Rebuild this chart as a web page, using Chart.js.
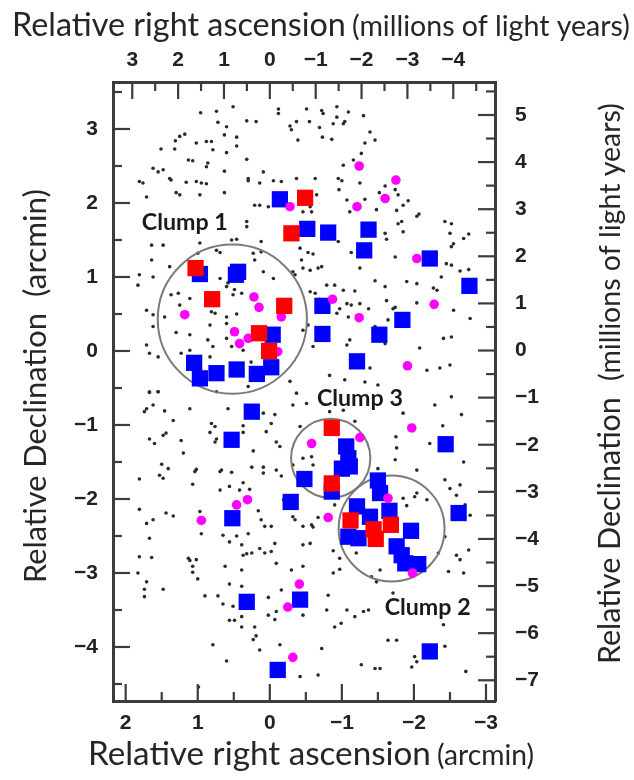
<!DOCTYPE html>
<html>
<head>
<meta charset="utf-8">
<script src="https://cdn.jsdelivr.net/npm/chart.js@4.4.1/dist/chart.umd.min.js"></script>
<style>
  body { margin: 0; background: #fff; }
  canvas { display: block; }
</style>
</head>
<body>
<canvas id="myChart" width="634" height="780"></canvas>
<script>
// axis ranges (arcmin and millions of light years)
const raRange = [-3.125, 2.176];
const decRange = [-4.73, 3.635];
const raLyRange = [-4.91, 3.42];
const decLyRange = [-7.44, 5.70];

const raTicks = [2, 1, 0, -1, -2, -3];
const decTicks = [3, 2, 1, 0, -1, -2, -3, -4];
const raLyTicks = [3, 2, 1, 0, -1, -2, -3, -4];
const decLyTicks = [5, 4, 3, 2, 1, 0, -1, -2, -3, -4, -5, -6, -7];

// clumps
const clumpNames = ['Clump 1', 'Clump 2', 'Clump 3'];
const clumpX = [0.52, -1.69, -0.845];
const clumpY = [0.43, -2.40, -1.45];
const clumpR = [1.035, 0.735, 0.55];
const clumpLabelX = [1.18, -2.19, -1.25];
const clumpLabelY = [1.73, -3.46, -0.64];

// red squares
const redPts = [
    [-0.49, 2.07], [-0.30, 1.59], [1.03, 1.12], [0.80, 0.70], [-0.20, 0.61],
    [0.15, 0.24], [0.01, 0.00], [-0.86, -1.04], [-0.86, -1.79], [-1.12, -2.29],
    [-1.44, -2.41], [-1.47, -2.54], [-1.68, -2.35]
];

// blue squares
const bluePts = [
    [-0.14, 2.05], [-0.52, 1.65], [0.97, 1.04], [0.44, 1.07], [0.47, 1.03],
    [-0.04, 0.22], [1.05, -0.16], [0.97, -0.37], [0.74, -0.30], [0.46, -0.25],
    [0.18, -0.31], [-0.02, -0.22], [-0.81, 1.60], [-1.37, 1.64], [-1.31, 1.36],
    [-2.22, 1.25], [-2.77, 0.88], [-0.73, 0.61], [-0.73, 0.23], [-1.84, 0.42],
    [-1.52, 0.22], [-1.21, -0.14], [0.25, -0.82], [0.53, -1.20], [-0.48, -1.73],
    [-0.29, -2.04], [0.52, -2.26], [-0.42, -3.36], [0.32, -3.39], [-0.11, -4.31],
    [-1.06, -1.29], [-1.09, -1.45], [-1.00, -1.59], [-1.11, -1.56], [-0.86, -1.90],
    [-2.44, -1.26], [-1.50, -1.75], [-1.53, -1.92], [-1.21, -2.10], [-1.66, -2.16],
    [-1.39, -2.24], [-1.09, -2.51], [-1.23, -2.53], [-1.96, -2.43], [-2.62, -2.19],
    [-1.76, -2.64], [-1.83, -2.76], [-1.88, -2.87], [-2.06, -2.88], [-2.22, -4.06]
];

// magenta points
const magentaPts = [
    [-0.28, 1.95], [0.22, 0.73], [0.15, 0.59], [1.18, 0.49], [-0.16, 0.46],
    [0.49, 0.26], [0.42, 0.10], [0.30, 0.17], [-0.11, -0.01], [-1.24, 2.50],
    [-1.75, 2.31], [-1.60, 2.06], [-1.21, 1.95], [-2.04, 1.25], [-2.28, 0.63],
    [-0.87, 0.70], [-1.24, 0.45], [-1.91, -0.20], [-0.58, -1.25], [0.46, -2.08],
    [0.31, -2.01], [0.95, -2.29], [-0.41, -3.15], [-0.25, -3.46], [-0.32, -4.14],
    [-1.25, -1.17], [-1.97, -1.04], [-0.81, -2.25], [-1.98, -3.00], [-1.64, -1.99]
];

// small black dots
const dotPts = [
    [0.51, 3.30], [0.74, 3.24], [0.96, 3.22], [0.32, 3.11], [0.19, 3.10], [0.72, 3.09], [0.60, 3.03],
    [1.18, 2.93], [1.25, 2.90], [1.31, 2.84], [0.63, 2.92], [0.46, 2.89], [0.88, 2.83], [1.02, 2.81],
    [0.81, 2.83], [0.79, 2.72], [1.51, 2.73], [1.32, 2.73], [0.46, 2.77], [0.60, 2.68], [1.13, 2.58],
    [1.07, 2.57], [0.86, 2.54], [0.88, 2.49], [0.32, 2.59], [0.09, 2.42], [1.62, 2.47], [1.48, 2.45],
    [1.55, 2.42], [0.30, 2.33], [0.63, 2.43], [1.39, 2.33], [1.81, 2.29], [1.76, 2.27], [1.37, 2.31],
    [1.16, 2.28], [1.02, 2.29], [0.95, 2.27], [0.88, 2.26], [0.30, 2.30], [0.14, 2.27], [1.30, 2.14],
    [1.25, 2.11], [1.71, 2.08], [0.97, 2.11], [0.63, 2.14], [0.21, 1.97], [0.14, 1.97], [0.02, 1.95],
    [0.32, 1.75], [0.32, 1.68], [1.64, 1.43], [1.48, 1.43], [0.97, 1.46], [0.53, 1.50], [0.46, 1.51],
    [0.12, 1.48], [1.64, 1.23], [1.39, 1.14], [1.00, 1.32], [0.74, 1.36], [0.69, 1.33], [0.12, 1.34],
    [0.23, 1.32], [0.21, 1.23], [0.09, 1.07], [1.81, 1.03], [1.83, 0.89], [1.62, 1.00], [0.69, 0.98],
    [0.58, 0.92], [0.49, 0.83], [0.39, 0.78], [0.60, 0.87], [0.51, 0.76], [1.27, 0.78], [1.11, 0.71],
    [1.37, 0.76], [1.25, 0.62], [1.46, 0.46], [1.62, 0.49], [1.62, 0.33], [1.71, 0.55], [0.83, 0.35],
    [0.60, 0.46], [0.46, 0.50], [0.60, 0.37], [0.81, 0.53], [0.76, 0.51], [1.11, 0.22], [1.30, 0.25],
    [0.60, 0.17], [0.79, 0.06], [0.86, 0.15], [0.53, 0.06], [0.37, 0.01], [1.71, 0.08], [1.67, -0.03],
    [1.55, -0.08], [1.11, 0.01], [1.23, -0.03], [0.26, -0.15], [0.83, -0.08], [1.55, -0.55], [1.67, -0.55],
    [0.74, -0.55], [0.30, -0.48],
    [-0.12, 3.27], [-0.12, 3.21], [-0.51, 3.27], [-0.72, 3.25], [-0.74, 3.21], [-0.93, 3.30], [-1.09, 3.23],
    [-0.93, 3.16], [-1.04, 3.10], [-1.30, 3.18], [-0.37, 3.10], [-0.55, 3.10], [-0.28, 3.04], [-0.30, 2.99],
    [-0.69, 3.02], [-0.88, 3.07], [-1.02, 3.07], [-0.39, 2.85], [-0.73, 2.89], [-0.86, 2.86], [-1.39, 2.96],
    [-1.46, 2.85], [-1.32, 2.81], [-1.27, 2.67], [-1.16, 2.58], [-1.02, 2.51], [-0.05, 2.30], [-0.16, 2.29],
    [-0.37, 2.33], [-0.63, 2.33], [-0.95, 2.33], [-1.00, 2.30], [-0.96, 2.18], [-1.25, 2.27], [-1.60, 2.23],
    [-1.74, 2.18], [-1.52, 2.14], [-1.78, 2.11], [-0.65, 2.11], [-0.56, 1.95], [-0.46, 1.88], [-0.58, 1.88],
    [-1.07, 2.04], [-1.32, 2.05], [-1.11, 1.88], [-1.48, 1.91], [-1.76, 1.90], [-1.85, 1.97], [-1.92, 2.03],
    [-2.07, 1.85], [-2.04, 1.82], [-1.78, 1.72], [-1.83, 1.75], [-1.85, 1.61], [-2.43, 1.75], [-2.52, 1.72],
    [-2.50, 1.59], [-2.76, 1.58], [-2.69, 1.52], [-0.95, 1.48], [-1.13, 1.33], [-1.25, 1.43], [-1.60, 1.59],
    [-1.62, 1.51], [-1.74, 1.27], [-2.55, 1.45], [-2.52, 1.41], [-0.42, 1.39], [-0.53, 1.33], [-0.60, 1.31],
    [-0.44, 1.23], [-0.46, 1.12], [-0.32, 1.07], [-0.35, 1.03], [-0.56, 1.09], [-0.67, 1.12], [-0.72, 1.14],
    [-1.25, 1.12], [-2.45, 1.18], [-2.52, 1.16], [-2.64, 1.08], [-2.76, 1.10], [-2.38, 1.00], [-2.27, 0.85],
    [-2.32, 0.82], [-1.90, 0.94], [-2.04, 0.91], [-1.46, 0.95], [-1.60, 0.87], [-1.02, 0.82], [-1.18, 0.81],
    [-0.90, 0.89], [-0.79, 0.89], [-0.63, 0.78], [-0.56, 0.80], [-0.05, 0.98], [-0.69, 0.70], [-0.97, 0.57],
    [-1.07, 0.64], [-1.13, 0.62], [-1.25, 0.64], [-1.37, 0.57], [-1.62, 0.68], [-1.71, 0.57], [-1.74, 0.59],
    [-2.04, 0.65], [-2.55, 0.55], [-2.78, 0.44], [-0.53, 0.35], [-1.09, 0.46], [-0.93, 0.51], [-0.60, 0.06],
    [-1.11, 0.15], [-1.07, 0.08], [-1.60, 0.10], [-1.46, 0.33], [-1.64, 0.42], [-2.41, 0.17], [-2.52, 0.19],
    [-0.46, 0.28], [-2.08, 0.04], [-2.50, -0.19], [-2.36, -0.23], [-2.18, -0.26], [-1.39, -0.23], [-0.83, -0.33],
    [-1.04, -0.39], [-1.32, -0.42], [-1.50, -0.46], [-0.28, -0.41], [-0.37, -0.57],
    [1.67, -0.56], [1.55, -0.55], [1.74, -0.82], [1.71, -0.78], [1.62, -0.73], [1.46, -0.81], [1.11, -0.78],
    [0.58, -0.78], [1.34, -0.94], [0.81, -0.98], [0.76, -1.02], [0.83, -1.10], [0.37, -1.01], [0.37, -1.10],
    [0.09, -0.84], [0.05, -1.09], [1.67, -1.19], [1.60, -1.25], [1.23, -1.21], [1.44, -1.11], [1.48, -1.14],
    [0.74, -1.19], [0.76, -1.23], [0.23, -1.35], [1.20, -1.38], [1.50, -1.53], [1.41, -1.59], [1.53, -1.68],
    [1.48, -1.72], [1.81, -1.73], [1.02, -1.60], [1.04, -1.63], [0.69, -1.63], [0.67, -1.61], [0.53, -1.64],
    [0.25, -1.57], [0.09, -1.57], [0.09, -1.65], [1.07, -1.80], [0.37, -1.78], [0.69, -1.88], [0.56, -1.83],
    [0.42, -1.88], [0.28, -1.87], [0.16, -2.16], [0.12, -2.28], [0.07, -2.37], [1.81, -2.14], [1.62, -2.28],
    [1.71, -2.33], [1.44, -2.19], [1.34, -2.23], [0.97, -2.17], [0.95, -2.47], [1.67, -2.53], [0.65, -2.49],
    [0.46, -2.50], [0.30, -2.47], [0.56, -2.58], [0.39, -2.62], [0.14, -2.67], [0.07, -2.73], [0.37, -2.76],
    [0.32, -2.74], [0.25, -2.73], [1.81, -2.78], [1.64, -2.79], [1.13, -2.80], [1.11, -2.83], [1.02, -2.82],
    [0.62, -2.91], [0.39, -2.96], [1.07, -2.91], [1.07, -2.99], [1.83, -3.00], [1.71, -3.12], [1.74, -3.22],
    [1.48, -3.22], [1.74, -3.32], [1.00, -3.08], [0.90, -3.31], [0.72, -3.31], [0.56, -3.15], [0.39, -3.18],
    [0.65, -3.42], [0.51, -3.45], [0.02, -3.33], [0.56, -3.64], [0.49, -3.64], [0.39, -3.59], [0.39, -3.73],
    [0.21, -3.73], [0.19, -3.85], [0.23, -3.90], [0.02, -3.57], [0.79, -3.97], [0.14, -4.04], [0.60, -4.19],
    [0.99, -4.54],
    [-0.07, -0.86], [-0.32, -0.73], [-0.51, -0.71], [-0.02, -0.98], [-0.83, -0.82], [-1.02, -0.80], [-1.18, -0.95],
    [-0.42, -1.02], [-2.29, -0.73], [-2.52, -0.62], [-2.66, -0.86], [-2.40, -1.01], [-1.85, -0.84], [-0.09, -1.23],
    [-0.14, -1.29], [-0.58, -1.43], [-0.60, -1.54], [-0.46, -1.45], [-0.32, -1.54], [-0.09, -1.61], [-0.16, -1.69],
    [-1.75, -1.16], [-1.76, -1.31], [-1.74, -1.47], [-1.50, -1.59], [-2.04, -1.61], [-2.22, -1.25], [-2.69, -1.50],
    [-2.43, -1.74], [-2.50, -1.86], [-2.64, -1.81], [-0.19, -2.01], [-0.32, -2.24], [-0.35, -2.28], [-0.46, -2.37],
    [-0.58, -2.35], [-0.60, -2.38], [-0.67, -2.25], [-0.02, -2.37], [-1.85, -1.99], [-2.01, -1.97], [-2.04, -1.92],
    [-2.18, -2.01], [-1.90, -2.09], [-2.59, -1.95], [-2.71, -2.08], [-2.78, -2.22], [-2.43, -2.51], [-0.90, -2.08],
    [-0.46, -2.62], [-0.56, -2.60], [-0.07, -2.60], [-0.02, -2.71], [-0.88, -2.70], [-0.97, -2.80], [-2.34, -2.73],
    [-2.59, -2.76], [-2.76, -2.69], [-2.64, -2.82], [-2.48, -2.98], [-2.69, -3.00], [-1.53, -2.96], [-1.20, -2.73],
    [-0.09, -2.87], [-0.30, -2.96], [-0.46, -2.91], [-0.97, -2.95], [-0.88, -3.00], [-1.41, -3.05], [-1.48, -3.12],
    [-1.71, -3.27], [-0.16, -3.23], [-0.81, -3.30], [-1.07, -3.50], [-0.79, -3.50], [-0.90, -3.73], [-0.99, -3.68],
    [-1.18, -3.59], [-1.37, -3.50], [-1.30, -3.52], [-0.46, -3.57], [-0.09, -3.52], [-0.07, -3.63], [-2.41, -3.70],
    [-0.14, -3.97], [-0.72, -4.02], [-1.64, -3.91], [-1.76, -3.91], [-2.43, -3.99], [-2.01, -4.13], [-2.04, -4.20],
    [-1.27, -4.24], [-1.46, -4.29], [-1.53, -4.29], [-0.67, -4.38], [-0.42, -4.40], [-1.97, -4.27], [-2.72, -4.33]
];

function toXY(list) {
    return list.map(p => ({ x: p[0], y: p[1] }));
}

function minusLabel(v) {
    return v < 0 ? '\u2212' + Math.abs(v) : String(v);
}

const frameColor = '#3c3c3c';
const tickFont = { family: '"Liberation Sans", Arial, sans-serif', size: 21, weight: 'bold' };
const titleFamily = 'Lato, "Open Sans", sans-serif';

// font size so that text has a given width
function fitFont(ctx, text, weight, width) {
    ctx.font = weight + ' 100px ' + titleFamily;
    return 100 * width / ctx.measureText(text).width;
}

// ticks drawn inward from the frame, long at whole units, short at halves
const inwardTicks = {
    id: 'inwardTicks',
    afterDatasetsDraw(chart) {
        const ctx = chart.ctx;
        const a = chart.chartArea;
        ctx.save();
        ctx.strokeStyle = frameColor;
        ctx.lineWidth = 2.2;
        ['x', 'x2', 'y', 'y2'].forEach(id => {
            const s = chart.scales[id];
            const start = Math.ceil(s.min * 2) / 2;
            for (let v = start; v <= s.max + 1e-9; v += 0.5) {
                const len = Math.abs(v - Math.round(v)) < 1e-6 ? 17 : 9;
                const p = s.getPixelForValue(v);
                ctx.beginPath();
                if (id === 'x') { ctx.moveTo(p, a.bottom); ctx.lineTo(p, a.bottom - len); }
                if (id === 'x2') { ctx.moveTo(p, a.top); ctx.lineTo(p, a.top + len); }
                if (id === 'y') { ctx.moveTo(a.left, p); ctx.lineTo(a.left + len, p); }
                if (id === 'y2') { ctx.moveTo(a.right, p); ctx.lineTo(a.right - len, p); }
                ctx.stroke();
            }
        });
        ctx.restore();
    }
};

// clump labels and the two-size axis titles
const textLayer = {
    id: 'textLayer',
    afterDraw(chart) {
        const ctx = chart.ctx;
        const sx = chart.scales.x, sy = chart.scales.y;
        ctx.save();
        ctx.fillStyle = '#1a1a1a';
        ctx.textBaseline = 'middle';
        ctx.textAlign = 'center';
        clumpNames.forEach((name, i) => {
            const size = fitFont(ctx, name, 'bold', 86);
            ctx.font = 'bold ' + size + 'px ' + titleFamily;
            ctx.fillText(name, sx.getPixelForValue(clumpLabelX[i]), sy.getPixelForValue(clumpLabelY[i]));
        });

        ctx.fillStyle = '#262626';
        ctx.textBaseline = 'alphabetic';
        ctx.textAlign = 'left';
        function pair(main, small, x0, y0, w1, gap, w2, angle) {
            const s1 = fitFont(ctx, main, 'normal', w1);
            const s2 = fitFont(ctx, small, 'normal', w2);
            ctx.save();
            ctx.translate(x0, y0);
            ctx.rotate(angle);
            ctx.font = s1 + 'px ' + titleFamily;
            ctx.fillText(main, 0, 0);
            ctx.font = s2 + 'px ' + titleFamily;
            ctx.fillText(small, w1 + gap, 0);
            ctx.restore();
        }
        pair('Relative right ascension', '(millions of light years)', 12, 36, 334, 6, 278, 0);
        pair('Relative right ascension', '(arcmin)', 88, 765, 343, 6, 97, 0);
        pair('Relative Declination', '(arcmin)', 46, 583, 270, 16, 108, -Math.PI / 2);
        pair('Relative Declination', '(millions of light years)', 620, 664, 267, 16, 278, -Math.PI / 2);
        ctx.restore();
    }
};

function fixSize(w, h) {
    return function (scale) {
        if (w) scale.width = w;
        if (h) scale.height = h;
    };
}

function axis(pos, range, ticks, reverse, padding, size) {
    const horizontal = pos === 'top' || pos === 'bottom';
    return {
        type: 'linear',
        position: pos,
        min: range[0],
        max: range[1],
        reverse: reverse,
        grid: { display: false, drawTicks: false },
        border: { display: true, color: frameColor, width: 3 },
        afterBuildTicks: scale => { scale.ticks = ticks.map(v => ({ value: v })); },
        afterFit: horizontal ? fixSize(0, size) : fixSize(size, 0),
        ticks: {
            padding: padding,
            color: '#222222',
            font: tickFont,
            maxRotation: 0,
            autoSkip: false,
            callback: v => minusLabel(v)
        }
    };
}

function ClumpChart() {
    const data = {
        datasets: [
            {
                label: 'red',
                data: toXY(redPts),
                pointStyle: 'rect',
                pointRadius: 11.5,
                pointBorderWidth: 0,
                backgroundColor: '#ff0000',
                order: 0
            },
            {
                label: 'magenta',
                data: toXY(magentaPts),
                pointRadius: 4.8,
                pointBorderWidth: 0,
                backgroundColor: '#ff00ff',
                order: 1
            },
            {
                label: 'blue',
                data: toXY(bluePts),
                pointStyle: 'rect',
                pointRadius: 11.5,
                pointBorderWidth: 0,
                backgroundColor: '#0000ff',
                order: 2
            },
            {
                label: 'clumps',
                data: clumpX.map((x, i) => ({ x: x, y: clumpY[i] })),
                pointRadius: ctx => {
                    const s = ctx.chart.scales.x;
                    return Math.abs(s.getPixelForValue(0) - s.getPixelForValue(clumpR[ctx.dataIndex]));
                },
                pointBackgroundColor: 'rgba(0,0,0,0)',
                pointBorderColor: '#7a7a7a',
                pointBorderWidth: 2,
                order: 3
            },
            {
                label: 'dots',
                data: toXY(dotPts),
                pointRadius: 1.8,
                pointBorderWidth: 0,
                backgroundColor: '#2a2a2a',
                order: 4
            }
        ]
    };
    const config = {
        type: 'scatter',
        data: data,
        options: {
            responsive: false,
            animation: false,
            events: [],
            layout: { padding: 0 },
            plugins: {
                legend: { display: false },
                tooltip: { enabled: false },
                title: { display: false }
            },
            scales: {
                x: axis('bottom', raRange, raTicks, true, 10, 79),
                x2: axis('top', raLyRange, raLyTicks, true, 9, 82),
                y: axis('left', decRange, decTicks, false, 15, 113),
                y2: axis('right', decLyRange, decLyTicks, false, 20, 139)
            }
        },
        plugins: [inwardTicks, textLayer]
    };
    new Chart(document.getElementById('myChart'), config);
}

ClumpChart();
</script>
</body>
</html>
